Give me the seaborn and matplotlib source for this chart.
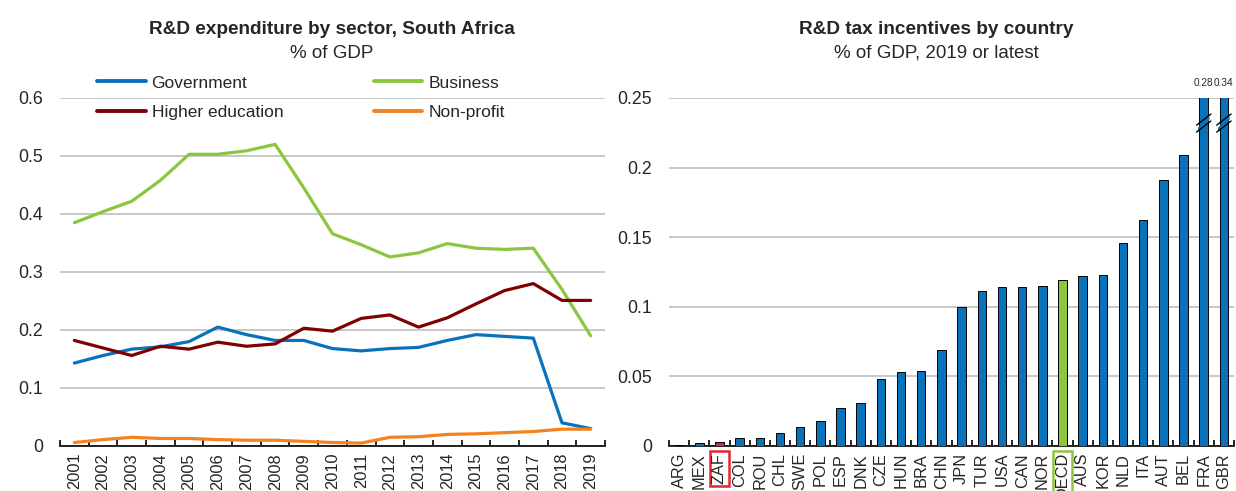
import matplotlib
matplotlib.use("Agg")
import matplotlib.pyplot as plt
import seaborn as sns
import pandas as pd
import numpy as np
from matplotlib import font_manager

# ---------------- data ----------------
years = list(range(2001, 2020))
government = [0.143, 0.156, 0.167, 0.171, 0.180, 0.205, 0.192, 0.182, 0.182, 0.168,
              0.164, 0.168, 0.170, 0.182, 0.192, 0.189, 0.186, 0.040, 0.030]
business = [0.385, 0.404, 0.422, 0.458, 0.503, 0.503, 0.509, 0.520, 0.445, 0.366,
            0.347, 0.326, 0.333, 0.349, 0.341, 0.339, 0.341, 0.270, 0.190]
higher_education = [0.182, 0.169, 0.156, 0.172, 0.167, 0.179, 0.172, 0.176, 0.203, 0.198,
                    0.220, 0.226, 0.205, 0.221, 0.245, 0.268, 0.280, 0.251, 0.251]
non_profit = [0.006, 0.011, 0.015, 0.013, 0.013, 0.011, 0.010, 0.010, 0.008, 0.006,
              0.005, 0.015, 0.016, 0.020, 0.021, 0.023, 0.025, 0.029, 0.029]

countries = ["ARG", "MEX", "ZAF", "COL", "ROU", "CHL", "SWE", "POL", "ESP", "DNK",
             "CZE", "HUN", "BRA", "CHN", "JPN", "TUR", "USA", "CAN", "NOR", "OECD",
             "AUS", "KOR", "NLD", "ITA", "AUT", "BEL", "FRA", "GBR"]
incentives = [0.0005, 0.002, 0.003, 0.006, 0.006, 0.009, 0.014, 0.018, 0.027, 0.031,
              0.048, 0.053, 0.054, 0.069, 0.100, 0.111, 0.114, 0.114, 0.115, 0.119,
              0.122, 0.123, 0.146, 0.162, 0.191, 0.209, 0.28, 0.34]

# ---------------- style ----------------
sns.set_theme(style="white")
names = {f.name for f in font_manager.fontManager.ttflist}
fam = [f for f in ["Liberation Sans Narrow", "Liberation Sans", "DejaVu Sans"] if f in names]
plt.rcParams["font.family"] = fam

BLUE = "#0a72ba"
GREEN = "#8cc63f"
DRED = "#7f0000"
ORANGE = "#f58220"
RED = "#e3262b"
GRID = "#c8c8c8"

fig = plt.figure(figsize=(12.36, 4.91), dpi=100)
ax1 = fig.add_axes([60 / 1236, 45 / 491, 545 / 1236, 348 / 491])
ax2 = fig.add_axes([669 / 1236, 45 / 491, 565 / 1236, 348 / 491])

# ---------------- left: lines ----------------
df = pd.DataFrame({
    "year": years * 4,
    "value": government + business + higher_education + non_profit,
    "sector": (["Government"] * len(years) + ["Business"] * len(years)
               + ["Higher education"] * len(years) + ["Non-profit"] * len(years)),
})
pal = {"Government": BLUE, "Business": GREEN, "Higher education": DRED, "Non-profit": ORANGE}
sns.lineplot(data=df, x="year", y="value", hue="sector", palette=pal, ax=ax1,
             linewidth=2.3, legend=False, zorder=3)

ax1.set_xlim(2000.5, 2019.5)
ax1.set_ylim(0, 0.6)
ax1.set_yticks(np.arange(0, 0.61, 0.1))
ax1.set_yticklabels(["0", "0.1", "0.2", "0.3", "0.4", "0.5", "0.6"])
ax1.set_xticks(years)
ax1.set_xticklabels([str(y) for y in years], rotation=90)
ax1.set_xticks(np.arange(2000.5, 2020, 1.0), minor=True)

order = ["Government", "Higher education", "Business", "Non-profit"]
handles = [plt.Line2D([], [], color=pal[k], lw=2.8) for k in order]
leg = ax1.legend(handles, order, ncol=2, loc="upper left",
                 bbox_to_anchor=(0.055, 1.085), frameon=False, fontsize=12.5,
                 handlelength=2.8, handletextpad=0.35, columnspacing=5.2,
                 labelspacing=0.85, borderaxespad=0)

# ---------------- right: bars ----------------
bdf = pd.DataFrame({"country": countries, "value": incentives})
bpal = {c: BLUE for c in countries}
bpal["ZAF"] = RED
bpal["OECD"] = GREEN
sns.barplot(data=bdf, x="country", y="value", hue="country", palette=bpal,
            order=countries, ax=ax2, width=0.42, edgecolor="black", linewidth=0.7,
            legend=False, saturation=1, zorder=3)
ax2.set_xlim(-0.45, len(countries) - 0.55)
ax2.set_ylim(0, 0.25)
ax2.set_yticks(np.arange(0, 0.251, 0.05))
ax2.set_yticklabels(["0", "0.05", "0.1", "0.15", "0.2", "0.25"])
ax2.set_xticks(range(len(countries)))
ax2.set_xticklabels(countries, rotation=90)
ax2.set_xticks(np.arange(-0.5, len(countries), 1.0), minor=True)

ymax = 0.25
for i, (c, v) in enumerate(zip(countries, incentives)):
    if v > ymax:
        ax2.text(i, ymax + 0.007, f"{v:.2f}", ha="center", va="bottom", fontsize=7.2,
                 clip_on=False)
        # break marks
        p = ax2.patches[i]
        x0 = p.get_x()
        w = p.get_width()
        yb = 0.232
        for dy in (-0.0025, 0.0025):
            ax2.plot([x0 - w * 0.35, x0 + w * 1.35], [yb + dy - 0.004, yb + dy + 0.004],
                     color="black", lw=1.0, zorder=5, clip_on=False)
        ax2.fill([x0 - w * 0.1, x0 + w * 1.1, x0 + w * 1.1, x0 - w * 0.1],
                 [yb - 0.0035, yb + 0.0045, yb + 0.0025, yb - 0.0055],
                 color=BLUE, zorder=4)

for lab in ax2.get_xticklabels():
    if lab.get_text() == "ZAF":
        lab.set_bbox(dict(facecolor="none", edgecolor=RED, linewidth=1.8, pad=1.5))
    if lab.get_text() == "OECD":
        lab.set_bbox(dict(facecolor="none", edgecolor=GREEN, linewidth=1.8, pad=1.5))

# ---------------- common styling ----------------
for ax in (ax1, ax2):
    ax.set_xlabel("")
    ax.set_ylabel("")
    ax.grid(axis="y", color=GRID, linewidth=1.4, zorder=0)
    ax.grid(axis="x", visible=False)
    ax.set_axisbelow(True)
    for s in ("top", "right", "left"):
        ax.spines[s].set_visible(False)
    ax.spines["bottom"].set_color("black")
    ax.spines["bottom"].set_linewidth(1.2)
    ax.tick_params(axis="y", length=0, labelsize=12.8, pad=12)
    ax.tick_params(axis="x", which="major", length=0, labelsize=11.8, pad=5)
    ax.tick_params(axis="x", which="minor", length=4, width=1.2, direction="in",
                   color="black", bottom=True)

# titles
fig.text(332 / 1236, 1 - 30 / 491, "R&D expenditure by sector, South Africa", ha="center",
         va="center", fontsize=13.7, fontweight="bold")
fig.text(332 / 1236, 1 - 53 / 491, "% of GDP", ha="center", va="center", fontsize=13.5)
fig.text(936 / 1236, 1 - 30 / 491, "R&D tax incentives by country", ha="center",
         va="center", fontsize=13.7, fontweight="bold")
fig.text(936 / 1236, 1 - 53 / 491, "% of GDP, 2019 or latest", ha="center", va="center",
         fontsize=13.5)

fig.savefig("out.png", dpi=100)
